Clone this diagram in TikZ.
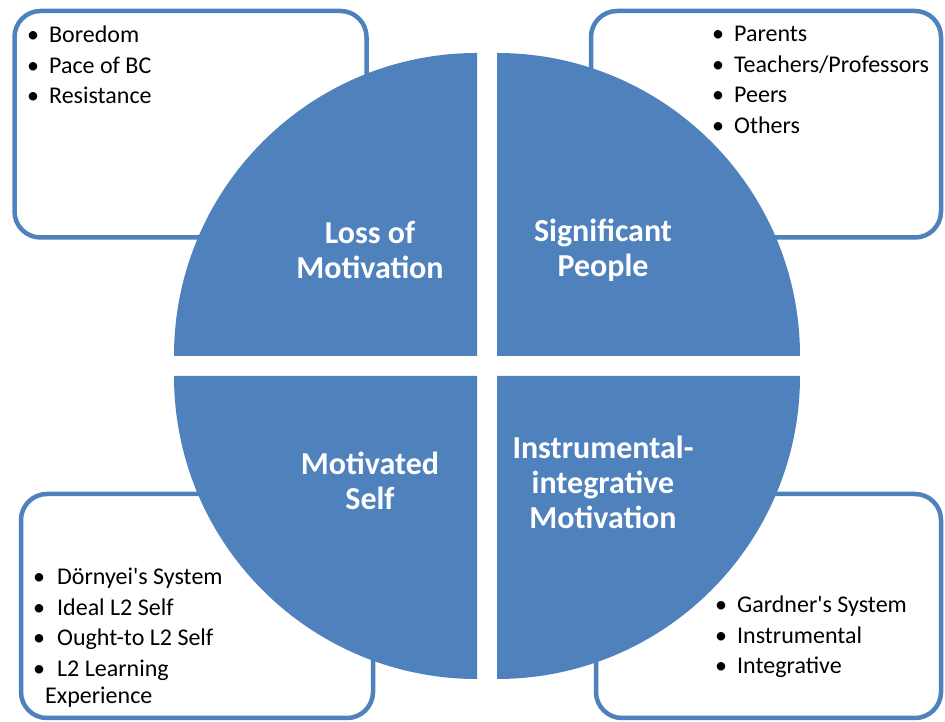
\documentclass[tikz,border=0pt]{standalone}
\usepackage{fontspec}
\setmainfont{Carlito}
\usepackage{xcolor}
\definecolor{quadblue}{HTML}{4F81BD}

\begin{document}
\begin{tikzpicture}[x=1pt, y=1pt,
  quad/.style={fill=quadblue},
  listbox/.style={draw=quadblue, line width=4.5pt, fill=white, rounded corners=26pt},
  quadlabel/.style={font=\fontsize{32}{35}\selectfont\bfseries, text=white, align=center, inner sep=0pt},
  itemlist/.style={font=\fontsize{24}{30.5}\selectfont, anchor=base west, inner sep=0pt}]
  \useasboundingbox (0,0) rectangle (945,722);
  \draw[listbox] (14.5,711) rectangle (366.5,484.5);
  \draw[listbox] (591,711) rectangle (941,484.5);
  \draw[listbox] (21,228) rectangle (373,4);
  \draw[listbox] (596,228) rectangle (941,4);
  \fill[quad] (477,366) -- ++(-303,0) arc[start angle=180, end angle=90, radius=303] -- cycle;
  \fill[quad] (497,366) -- ++(0,303) arc[start angle=90, end angle=0, radius=303] -- cycle;
  \fill[quad] (477,346) -- ++(0,-303) arc[start angle=270, end angle=180, radius=303] -- cycle;
  \fill[quad] (497,346) -- ++(303,0) arc[start angle=0, end angle=-90, radius=303] -- cycle;
  \node[quadlabel] (loss) at (370,472) {Loss of\\Motivation};
  \node[quadlabel] (people) at (603,472) {Significant\\People};
  \node[quadlabel] (self) at (370,241) {Motivated\\Self};
  \node[quadlabel] (instr) at (603,240) {Instrumental-\\integrative\\Motivation};
  \node[itemlist] (lossitems) at (27,679) {\begin{tabular}[t]{@{}l@{\hspace{10pt}}l@{}}
    \textbullet & Boredom\\
    \textbullet & Pace of BC\\
    \textbullet & Resistance
  \end{tabular}};
  \node[itemlist] (peopleitems) at (712,680) {\begin{tabular}[t]{@{}l@{\hspace{10pt}}l@{}}
    \textbullet & Parents\\
    \textbullet & Teachers/Professors\\
    \textbullet & Peers\\
    \textbullet & Others
  \end{tabular}};
  \node[itemlist] (selfitems) at (33,137) {\begin{tabular}[t]{@{}l@{\hspace{12pt}}l@{}}
    \textbullet & D\"ornyei\textquotesingle s System\\
    \textbullet & Ideal L2 Self\\
    \textbullet & Ought-to L2 Self\\
    \textbullet & L2 Learning\\[-3pt]
    \multicolumn{2}{@{}l@{}}{\hspace{12pt}Experience}
  \end{tabular}};
  \node[itemlist] (instritems) at (715,109) {\begin{tabular}[t]{@{}l@{\hspace{10pt}}l@{}}
    \textbullet & Gardner\textquotesingle s System\\
    \textbullet & Instrumental\\
    \textbullet & Integrative
  \end{tabular}};
\end{tikzpicture}
\end{document}
